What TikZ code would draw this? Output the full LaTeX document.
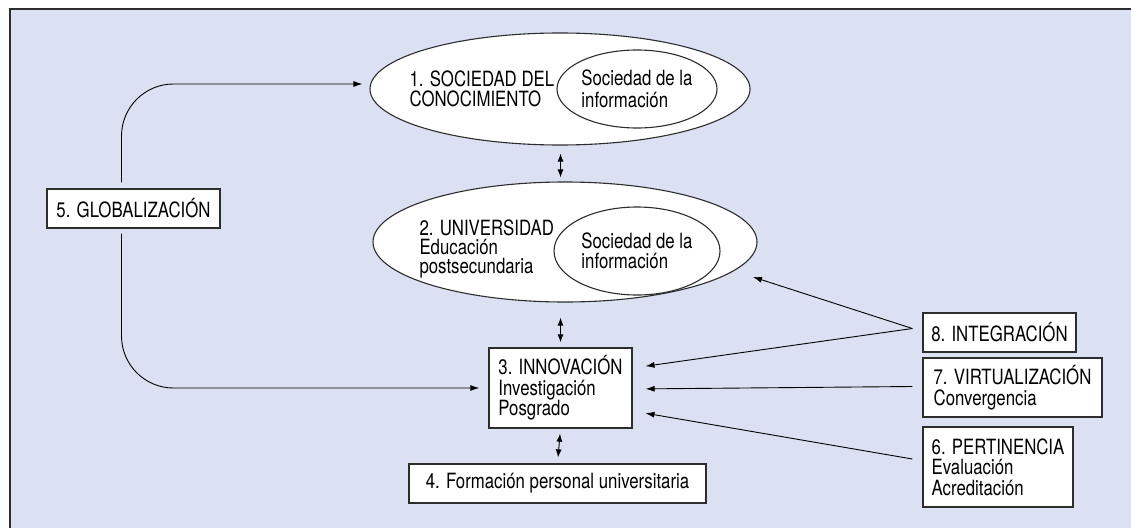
\documentclass[tikz,border=0pt]{standalone}
\usepackage{fontspec}
\setmainfont{TeX Gyre Heros}[FakeStretch=0.80]
\usetikzlibrary{shapes.geometric,arrows.meta,positioning}
\definecolor{panelblue}{RGB}{219,225,243}
\definecolor{edgegray}{RGB}{45,45,45}
\begin{document}
\begin{tikzpicture}[x=1pt,y=-1pt]
			\tikzset{every node/.style={font=\fontsize{21}{20.5}\selectfont}}
			\tikzset{oval/.style={ellipse,draw=edgegray,fill=white,line width=1.1pt,inner sep=0pt}}
			\tikzset{card/.style={rectangle,draw=edgegray,fill=white,line width=1.3pt,align=left,minimum height=39pt}}
			\tikzset{arr/.style={line width=0.9pt,-{Latex[length=9pt,width=6pt]}}}
			\tikzset{dbl/.style={line width=0.9pt,{Latex[length=8pt,width=6pt]}-{Latex[length=8pt,width=6pt]}}}
			\useasboundingbox (0,0) rectangle (1131,527);
			\fill[panelblue] (10,9) rectangle (1140,535);
			\draw[edgegray,line width=1.3pt] (1140,9) -- (10,9) -- (10,535);
			\node[oval,minimum width=380pt,minimum height=112pt] (e1) at (560,89) {};
			\node[oval,minimum width=160pt,minimum height=78pt,align=left,font=\fontsize{21}{21.5}\selectfont] (e1in) at (637,89) {Sociedad de la\\información};
			\node[anchor=west,align=left,font=\fontsize{21}{20.5}\selectfont] (e1txt) at (406,89) {1. SOCIEDAD DEL\\CONOCIMIENTO};
			\node[oval,minimum width=384pt,minimum height=120pt] (e2) at (565,242) {};
			\node[oval,minimum width=166pt,minimum height=88pt,align=left,font=\fontsize{21}{19.5}\selectfont] (e2in) at (637,251) {Sociedad de la\\información};
			\node[anchor=west,align=left,font=\fontsize{21}{19}\selectfont] (e2txt) at (416,249) {2. UNIVERSIDAD\\Educación\\postsecundaria};
			\node[card,minimum width=143pt,minimum height=80pt] (box3) at (560.5,388) {3. INNOVACIÓN\\Investigación\\Posgrado};
			\node[card,minimum width=297pt] (box4) at (557.5,483.5) {4. Formación personal universitaria};
			\node[card,minimum width=173pt] (box5) at (133.5,208.5) {5. GLOBALIZACIÓN};
			\node[card,minimum width=150pt,minimum height=80pt] (box6) at (998,467) {6. PERTINENCIA\\Evaluación\\Acreditación};
			\node[card,minimum width=179pt,minimum height=59pt] (box7) at (1012.5,387.5) {7. VIRTUALIZACIÓN\\Convergencia};
			\node[card,minimum width=153pt] (box8) at (999.5,332.5) {8. INTEGRACIÓN};
			\coordinate (c8) at (753,277);
			\draw[dbl,shorten <=8pt,shorten >=4pt] (e1.south -| box3.north) -- (e2.north -| box3.north);
			\draw[dbl,shorten <=15pt,shorten >=5pt] (e2.south -| box3.north) -- (box3.north);
			\draw[dbl,shorten <=5pt,shorten >=6pt] (box3.south) -- (box4.north);
			\draw[arr,rounded corners=52pt,shorten >=7pt] ([xshift=-12pt,yshift=6pt]box5.north) |- ([yshift=5pt]e1.west);
			\draw[arr,rounded corners=52pt,shorten >=9pt] ([xshift=-12pt,yshift=-5pt]box5.south) |- (box3.west);
			\draw[arr] ([xshift=-10pt,yshift=4pt]box8.west) -- (c8);
			\draw[arr,shorten >=13pt] ([xshift=-10pt,yshift=4pt]box8.west) -- ([yshift=20pt]box3.east);
			\draw[arr,shorten >=13pt] ([xshift=-10pt,yshift=1pt]box7.west) -- ([yshift=-1pt]box3.east);
			\draw[arr,shorten >=13pt] ([xshift=-10pt,yshift=8pt]box6.west) -- ([yshift=-23pt]box3.east);
		\end{tikzpicture}
\end{document}
